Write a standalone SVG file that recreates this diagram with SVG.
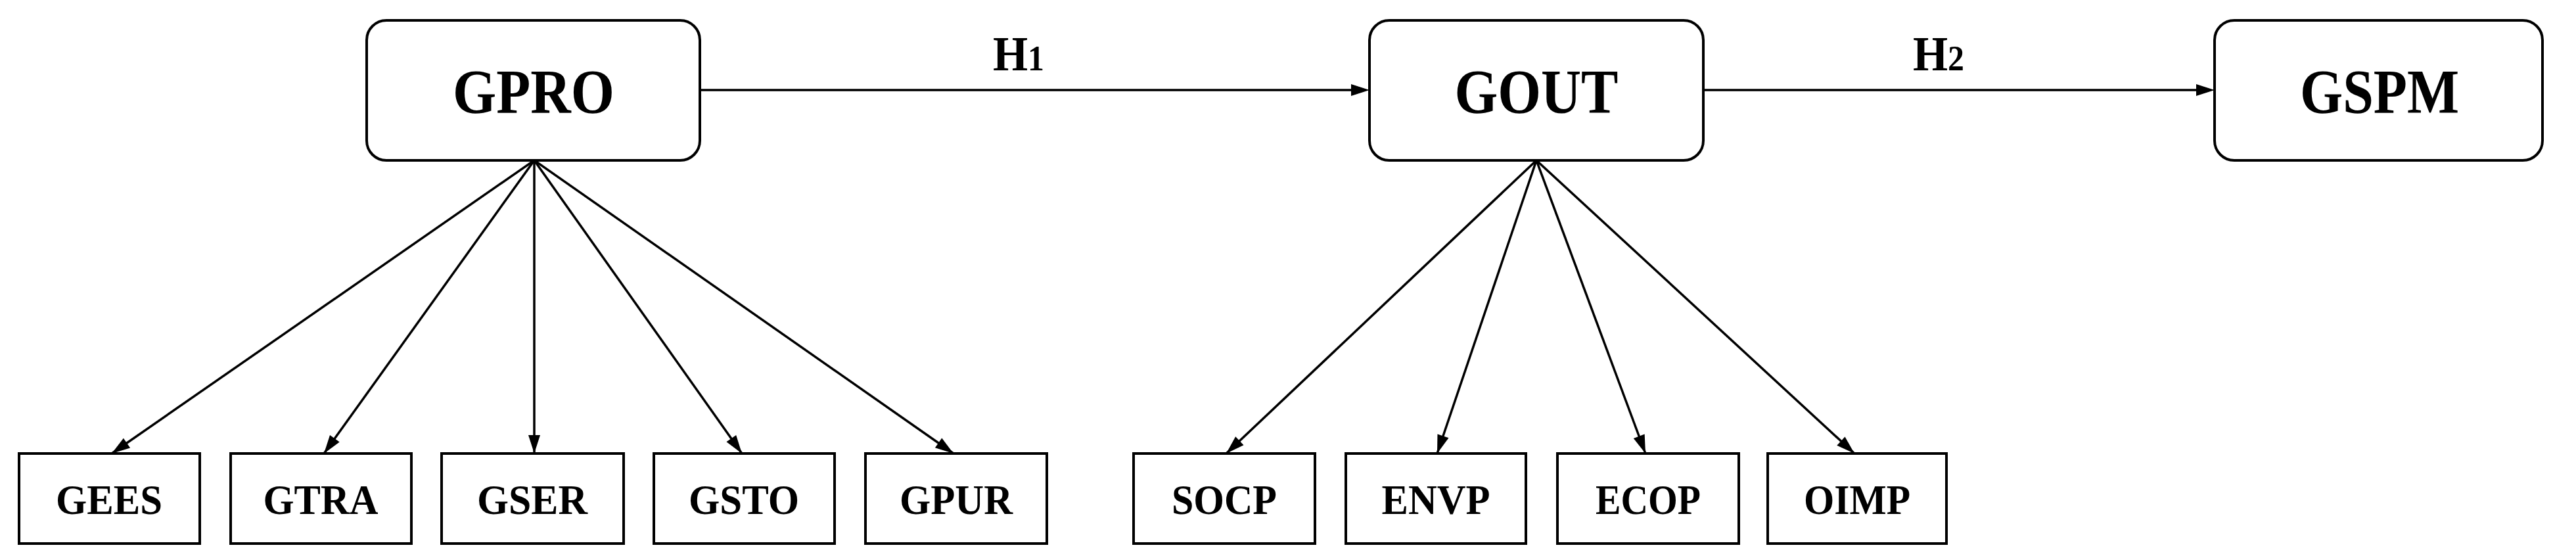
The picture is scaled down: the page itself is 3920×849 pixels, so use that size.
<svg xmlns="http://www.w3.org/2000/svg" width="3920" height="849" viewBox="0 0 3920 849">
<style>
.big{fill:#fff;stroke:#000;stroke-width:4}
.sm{fill:#fff;stroke:#000;stroke-width:4}
text{font-family:"Liberation Serif","Times New Roman",serif;font-weight:bold;fill:#000;text-anchor:middle}
.bt{font-size:96px}
.st{font-size:64px}
</style>
<defs><path id="ah" d="M0,0L-28,-9L-28,9Z"/></defs>
<rect width="3920" height="849" fill="#fff"/>
<g id="connectors" stroke="#000" stroke-width="3.5" fill="none">
<line x1="813" y1="244" x2="170" y2="690"/>
<line x1="813" y1="244" x2="493" y2="690"/>
<line x1="813" y1="244" x2="813" y2="690"/>
<line x1="813" y1="244" x2="1129" y2="690"/>
<line x1="813" y1="244" x2="1451" y2="690"/>
<line x1="2338" y1="244" x2="1866" y2="690"/>
<line x1="2338" y1="244" x2="2187" y2="690"/>
<line x1="2338" y1="244" x2="2504" y2="690"/>
<line x1="2338" y1="244" x2="2822" y2="690"/>
<line x1="1065" y1="137" x2="2060" y2="137"/>
<line x1="2592" y1="137" x2="3346" y2="137"/>
</g>
<g id="heads" fill="#000">
<use href="#ah" transform="translate(2084,137)"/>
<use href="#ah" transform="translate(3370,137)"/>
<use href="#ah" transform="translate(170,690) rotate(145.3)"/>
<use href="#ah" transform="translate(493,690) rotate(125.7)"/>
<use href="#ah" transform="translate(813,690) rotate(90)"/>
<use href="#ah" transform="translate(1129,690) rotate(54.7)"/>
<use href="#ah" transform="translate(1451,690) rotate(35)"/>
<use href="#ah" transform="translate(1866,690) rotate(136.6)"/>
<use href="#ah" transform="translate(2187,690) rotate(108.7)"/>
<use href="#ah" transform="translate(2504,690) rotate(69.6)"/>
<use href="#ah" transform="translate(2822,690) rotate(42.7)"/>
</g>
<g id="labels">
<text x="1550" y="107" font-size="74" textLength="78" lengthAdjust="spacingAndGlyphs">H<tspan font-size="54">1</tspan></text>
<text x="2950" y="107" font-size="74" textLength="78" lengthAdjust="spacingAndGlyphs">H<tspan font-size="54">2</tspan></text>
</g>
<g id="GPRO"><rect class="big" x="558" y="31" width="507" height="213" rx="30"/><text class="bt" x="812" y="172" textLength="246" lengthAdjust="spacingAndGlyphs">GPRO</text></g>
<g id="GOUT"><rect class="big" x="2084" y="31" width="508" height="213" rx="30"/><text class="bt" x="2338" y="172" textLength="249" lengthAdjust="spacingAndGlyphs">GOUT</text></g>
<g id="GSPM"><rect class="big" x="3370" y="31" width="499" height="213" rx="30"/><text class="bt" x="3621" y="172" textLength="242" lengthAdjust="spacingAndGlyphs">GSPM</text></g>
<g id="GEES"><rect class="sm" x="29" y="690" width="275" height="137"/><text class="st" x="166" y="782" textLength="162" lengthAdjust="spacingAndGlyphs">GEES</text></g>
<g id="GTRA"><rect class="sm" x="351" y="690" width="275" height="137"/><text class="st" x="488" y="782" textLength="175" lengthAdjust="spacingAndGlyphs">GTRA</text></g>
<g id="GSER"><rect class="sm" x="672" y="690" width="277" height="137"/><text class="st" x="810" y="782" textLength="168" lengthAdjust="spacingAndGlyphs">GSER</text></g>
<g id="GSTO"><rect class="sm" x="995" y="690" width="275" height="137"/><text class="st" x="1132" y="782" textLength="168" lengthAdjust="spacingAndGlyphs">GSTO</text></g>
<g id="GPUR"><rect class="sm" x="1317" y="690" width="276" height="137"/><text class="st" x="1455" y="782" textLength="172" lengthAdjust="spacingAndGlyphs">GPUR</text></g>
<g id="SOCP"><rect class="sm" x="1725" y="690" width="276" height="137"/><text class="st" x="1863" y="782" textLength="160" lengthAdjust="spacingAndGlyphs">SOCP</text></g>
<g id="ENVP"><rect class="sm" x="2048" y="690" width="274" height="137"/><text class="st" x="2185" y="782" textLength="165" lengthAdjust="spacingAndGlyphs">ENVP</text></g>
<g id="ECOP"><rect class="sm" x="2370" y="690" width="276" height="137"/><text class="st" x="2508" y="782" textLength="160" lengthAdjust="spacingAndGlyphs">ECOP</text></g>
<g id="OIMP"><rect class="sm" x="2690" y="690" width="272" height="137"/><text class="st" x="2826" y="782" textLength="162" lengthAdjust="spacingAndGlyphs">OIMP</text></g>
</svg>
